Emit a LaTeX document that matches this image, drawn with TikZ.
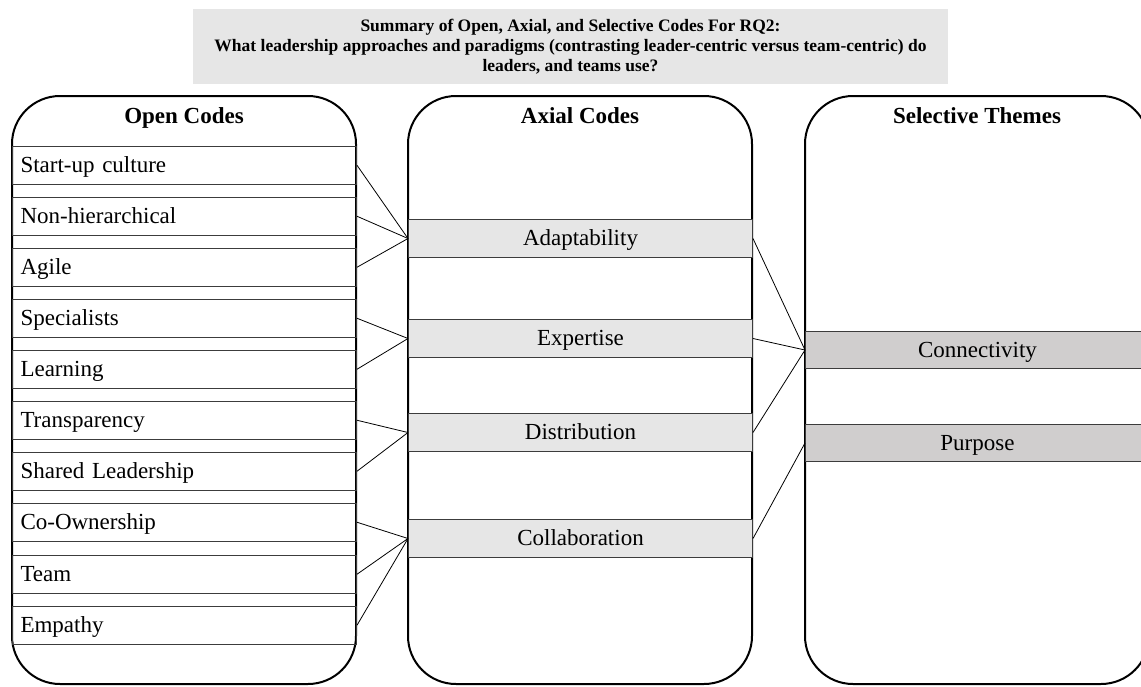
\documentclass[tikz,border=0pt]{standalone}
\usepackage{fontspec}
\setmainfont{Liberation Serif}
\usetikzlibrary{calc}
\usepackage{color}

\definecolor{boxgray}{HTML}{E6E6E6}
\definecolor{themegray}{HTML}{D0CECE}
\definecolor{rowline}{HTML}{3C3C3C}

\tikzset{
	codetext/.style={font=\fontsize{23}{27}\selectfont, text height=17.5pt, text depth=3pt, inner ysep=3pt}
}

\newcommand{\codecolumn}[3] % left edge in px, name, header text
{
	% rounded outline
	\draw[line width=2pt, rounded corners=48pt] (#1,96) rectangle ++(344,588);
	% header, on its baseline
	\node[anchor=base, font=\bfseries\fontsize{23}{27}\selectfont] (#2) at (#1+172,123) {#3};
}
\newcommand{\opencode}[3] % name, top edge in px, text
{
	\node[codetext, draw=rowline, line width=1pt, anchor=north west, minimum height=37.5pt,
		text width=328pt, inner xsep=8pt, align=left] (#1) at (12,#2) {#3};
}
\newcommand{\axialcode}[3] % name, top edge in px, text
{
	\node[codetext, draw=rowline, line width=1pt, fill=boxgray, anchor=north west, minimum width=344pt,
		minimum height=38pt] (#1) at (408,#2) {#3};
}
\newcommand{\selectivetheme}[3] % name, top edge in px, text
{
	\node[codetext, draw=rowline, line width=1pt, fill=themegray, anchor=north west, minimum width=344pt,
		minimum height=37pt] (#1) at (805,#2) {#3};
}

\begin{document}
\begin{tikzpicture}[x=1pt, y=-1pt]
	% 1141px x 686px, 1px = 1pt
	\useasboundingbox (0,0) rectangle (1141,686);
	\clip (0,0) rectangle (1141,686);
	
	% title
	\node[fill=boxgray, minimum width=755pt, minimum height=75pt, align=center,
		font=\bfseries\fontsize{17.5}{20}\selectfont] (title) at (570.5,46.5)
		{Summary of Open, Axial, and Selective Codes For RQ2:\\
		What leadership approaches and paradigms (contrasting leader-centric versus team-centric) do\\
		leaders, and teams use?};
	
	\codecolumn{12}{openhead}{Open Codes};
	\codecolumn{408}{axialhead}{Axial Codes};
	\codecolumn{805}{themehead}{Selective Themes};
	
	\opencode{startup}{146}{Start-up culture};
	\opencode{nonhier}{197}{Non-hierarchical};
	\opencode{agile}{248}{Agile};
	\opencode{special}{299}{Specialists};
	\opencode{learning}{350}{Learning};
	\opencode{transp}{401}{Transparency};
	\opencode{shared}{452}{Shared Leadership};
	\opencode{coown}{503}{Co-Ownership};
	\opencode{team}{555}{Team};
	\opencode{empathy}{606}{Empathy};
	
	\axialcode{adapt}{219}{Adaptability};
	\axialcode{expert}{319}{Expertise};
	\axialcode{distrib}{413}{Distribution};
	\axialcode{collab}{519}{Collaboration};
	
	\selectivetheme{connect}{331}{Connectivity};
	\selectivetheme{purpose}{424}{Purpose};
	
	% links
	\foreach \a/\b in {startup/adapt, nonhier/adapt, agile/adapt, special/expert, learning/expert,
		transp/distrib, shared/distrib, coown/collab, team/collab, empathy/collab,
		adapt/connect, expert/connect, distrib/connect, collab/purpose}
		\draw[line width=0.8pt] (\a.east) -- (\b.west);
	
\end{tikzpicture}
\end{document}
